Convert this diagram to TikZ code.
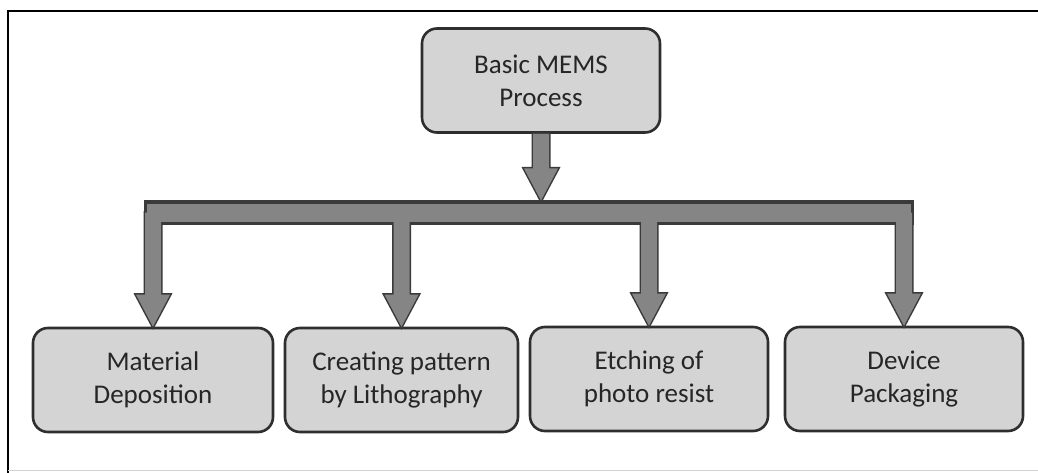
\documentclass[tikz,border=0pt]{standalone}
\usepackage{fontspec}
\setmainfont{Carlito}
\usetikzlibrary{calc}
\definecolor{boxfill}{HTML}{D4D4D4}
\definecolor{boxline}{HTML}{2E2E2E}
\definecolor{arrfill}{HTML}{858585}
\definecolor{arrline}{HTML}{3A3A3A}
\definecolor{txt}{HTML}{262626}
\newcommand{\blockarrow}[3]{%
  \path[#1] let \p1=(#2), \p2=(#3) in
    (\x1-8pt,\y1) -- (\x1-8pt,\y2+32pt) -- (\x1-17pt,\y2+32pt) -- (\x1,\y2)
    -- (\x1+17pt,\y2+32pt) -- (\x1+8pt,\y2+32pt) -- (\x1+8pt,\y1) -- cycle;}
\begin{document}
\begin{tikzpicture}[x=1pt,y=-1pt,
  procbox/.style={draw=boxline, line width=2.6pt, fill=boxfill, rounded corners=15pt,
    align=center, text=txt, font=\fontsize{27}{33}\selectfont,
    minimum height=104pt, inner sep=0pt},
  arrout/.style={draw=arrline, line width=3pt, line join=miter},
  arrin/.style={fill=arrfill},
  barstyle/.style={draw=arrline, line width=3pt, fill=arrfill, inner sep=0pt,
    minimum width=767pt, minimum height=21pt}]
\useasboundingbox (0,0) rectangle (1038,473);
\fill[white] (0,0) rectangle (1038,473);
\draw[line width=2pt] (8,473) -- (8,11.5) -- (1038,11.5);
\draw[gray!35, line width=1pt] (8,470) -- (1038,470);

\node[procbox, minimum width=238pt] (top) at (541,80.5) {Basic MEMS\\Process};
\node[procbox, minimum width=240pt] (b1) at (153,380) {Material\\Deposition};
\node[procbox, minimum width=233pt] (b2) at (401.5,380) {Creating pattern\\by Lithography};
\node[procbox, minimum width=238pt] (b3) at (649,379) {Etching of\\photo resist};
\node[procbox, minimum width=238pt] (b4) at (904,379) {Device\\Packaging};

% outlines of the down arrows
\foreach \b in {b1,b2,b3,b4}{
  \blockarrow{arrout}{\b.north |- 0,212.5}{\b.north}
}
\node[barstyle] (bar) at (528.5,212.5) {};
\foreach \b in {b1,b2,b3,b4}{
  \blockarrow{arrin}{\b.north |- bar.center}{\b.north}
}
% main arrow
\blockarrow{arrout}{top.south}{top.south |- bar.north}
\blockarrow{arrin}{top.south}{top.south |- bar.north}
\end{tikzpicture}
\end{document}
